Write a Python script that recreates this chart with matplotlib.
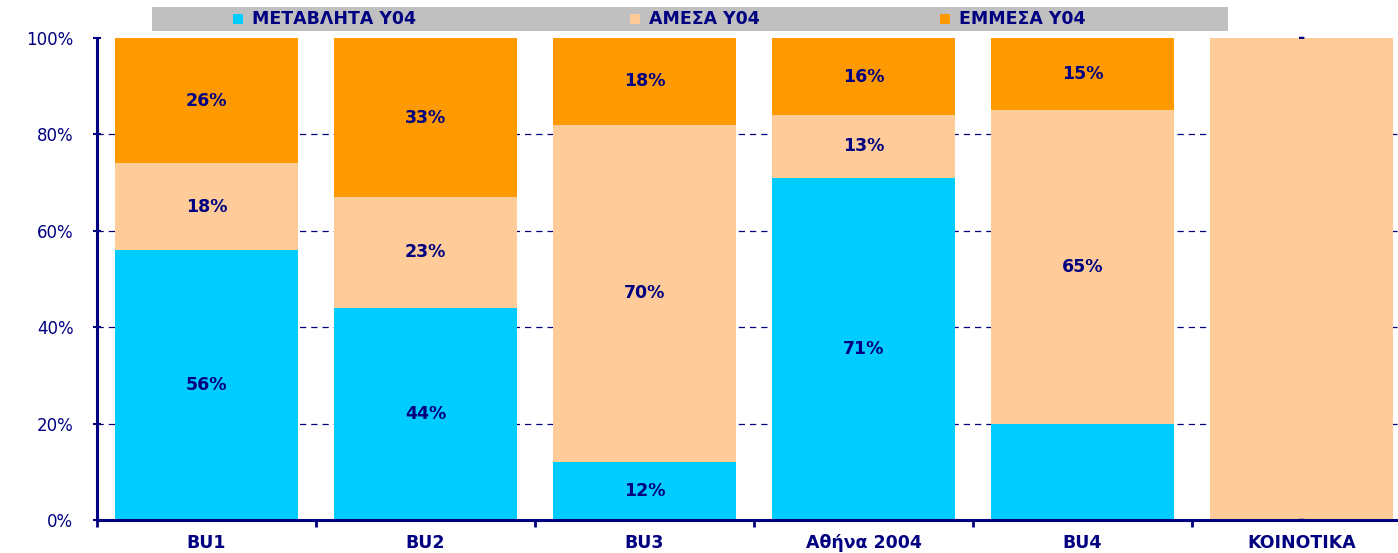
import numpy as np
import matplotlib
matplotlib.use("Agg")
from matplotlib import pyplot as plt
from matplotlib.patches import Rectangle

plt.rcParams['font.family'] = ['DejaVu Sans']

# Data
categories = ['BU1', 'BU2', 'BU3', 'Αθήνα 2004', 'BU4', 'KOINOTIKA']
metavlita = [56, 44, 12, 71, 20, 0]
amesa = [18, 23, 70, 13, 65, 100]
emmesa = [26, 33, 18, 16, 15, 0]
series_names = ['ΜΕΤΑΒΛΗΤΑ Υ04', 'ΑΜΕΣΑ Υ04', 'ΕΜΜΕΣΑ Υ04']
# which values carry a label on the bars
show_metavlita = [True, True, True, True, False, False]
show_amesa = [True, True, True, True, True, False]
show_emmesa = [True, True, True, True, True, False]
yticks = [0, 20, 40, 60, 80, 100]
ytick_labels = ['0%', '20%', '40%', '60%', '80%', '100%']

colors = ['#00CCFF', '#FFCC99', '#FF9900']
navy = '#000080'

W, H = 1398, 553
fig = plt.figure(figsize=(W / 100, H / 100), dpi=100)
# axes: left 97px, bottom 33px, width 6*219px, height 482px
ax = fig.add_axes([97 / W, 33 / H, 1314 / W, 482 / H])

x = np.arange(len(categories))
bw = 0.835
ax.bar(x, metavlita, bw, color=colors[0], zorder=2)
ax.bar(x, amesa, bw, bottom=metavlita, color=colors[1], zorder=2)
bottom3 = np.array(metavlita) + np.array(amesa)
ax.bar(x, emmesa, bw, bottom=bottom3, color=colors[2], zorder=2)

# data labels
lab_kw = dict(ha='center', va='center', color=navy, fontsize=12.5, fontweight='bold', zorder=3)
for i in range(len(categories)):
    if show_metavlita[i]:
        ax.text(x[i], metavlita[i] / 2, '%d%%' % metavlita[i], **lab_kw)
    if show_amesa[i]:
        ax.text(x[i], metavlita[i] + amesa[i] / 2, '%d%%' % amesa[i], **lab_kw)
    if show_emmesa[i]:
        ax.text(x[i], bottom3[i] + emmesa[i] / 2, '%d%%' % emmesa[i], **lab_kw)
    if metavlita[i] == 0:
        ax.text(x[i], 0, '-', **lab_kw)
    if emmesa[i] == 0:
        ax.text(x[i], 100, '-', **lab_kw)

ax.set_xlim(-0.5, len(categories) - 0.5)
ax.set_ylim(0, 100)
ax.set_yticks(yticks)
ax.set_yticklabels(ytick_labels, color=navy, fontsize=12)
# dashed gridlines only between 0% and 100%
for v in yticks[1:-1]:
    ax.axhline(v, linestyle=(0, (5, 4)), color=navy, linewidth=0.9, zorder=1)

# category labels at centers, ticks at boundaries
ax.set_xticks(np.arange(len(categories) + 1) - 0.5)
ax.set_xticklabels([])
ax.set_xticks(x, minor=True)
ax.set_xticklabels(categories, minor=True, color=navy, fontsize=12.5, fontweight='bold')
ax.tick_params(axis='x', which='minor', length=0, pad=10)
ax.tick_params(axis='x', which='major', length=5, width=2, color=navy, direction='out')
ax.tick_params(axis='y', length=6, width=1.5, color=navy, direction='inout', pad=14)

for s in ['top', 'right']:
    ax.spines[s].set_visible(False)
ax.spines['left'].set_color(navy)
ax.spines['left'].set_linewidth(2.2)
ax.spines['bottom'].set_color(navy)
ax.spines['bottom'].set_linewidth(2.2)

# legend in a gray band across the top
fig.patches.append(Rectangle((152 / W, (H - 31) / H), (1228 - 152) / W, 24 / H,
                             transform=fig.transFigure, facecolor='#C0C0C0',
                             edgecolor='none'))
leg_x = [233, 630, 940]
for name, col, lx in zip(series_names, colors, leg_x):
    fig.patches.append(Rectangle((lx / W, (H - 24) / H), 10 / W, 10 / H,
                                 transform=fig.transFigure, facecolor=col, edgecolor='none'))
    fig.text((lx + 19) / W, (H - 19) / H, name, ha='left', va='center',
             color=navy, fontsize=12.5, fontweight='bold')

fig.savefig('out.png', dpi=100)
